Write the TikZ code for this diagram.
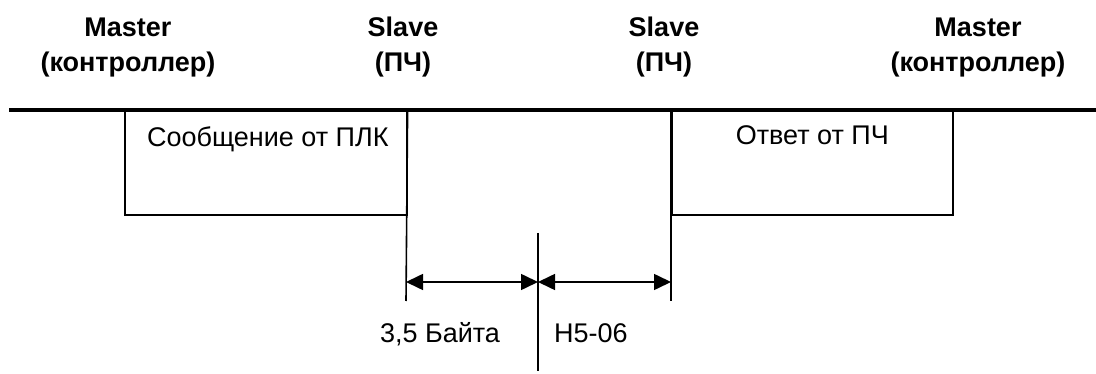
\documentclass[tikz,border=0pt]{standalone}
\usepackage{fontspec}
\setmainfont{Liberation Sans}
\usetikzlibrary{positioning, arrows.meta, calc}
\tikzset{
  bus/.style={line width=4pt},
  frame/.style={draw, line width=1.6pt, minimum width=282pt, minimum height=104pt,
                inner sep=0pt, anchor=north west},
  txt/.style={font=\fontsize{27}{35}\selectfont, inner sep=0pt, anchor=base, align=center},
  head/.style={txt, font=\fontsize{27}{35}\selectfont\bfseries},
  tick/.style={line width=1.6pt},
  dim/.style={{Triangle[length=17pt, width=16pt]}-{Triangle[length=17pt, width=16pt]}, line width=1.6pt},
}
\begin{document}
\begin{tikzpicture}[x=1pt, y=-1pt]
  \useasboundingbox (0,0) rectangle (1096,374);
  % Titles of the stations
  \node[head] (mst1) at (128,72) {Master\\(контроллер)};
  \node[head] (slv1) at (403,72) {Slave\\(ПЧ)};
  \node[head] (slv2) at (664,72) {Slave\\(ПЧ)};
  \node[head] (mst2) at (978,72) {Master\\(контроллер)};
  % Frames on the line
  \node[frame] (req) at (124,110) {};
  \node[frame, minimum width=281pt] (resp) at (671,110) {};
  \node[txt] (reqtxt) at ($(req.north)+(2,37)$) {Сообщение от ПЛК};
  \node[txt] (resptxt) at ($(resp.north)+(0,35)$) {Ответ от ПЧ};
  \coordinate (busL) at (9,110);
  \coordinate (busR) at (1096,110);
  \draw[bus] (busL) -- (busR);
  % Pause between frames
  \coordinate (endreq) at (406,301);
  \coordinate (endresp) at (671,301);
  \coordinate (midtop) at (538,233);
  \coordinate (midbot) at (538,371);
  \draw[tick] (req.north east) -- (endreq);
  \draw[tick] (resp.north west) -- (endresp);
  \draw[tick] (midtop) -- (midbot);
  \coordinate (gapL) at (406,282);
  \coordinate (gapM) at (538,282);
  \coordinate (gapR) at (671,282);
  \draw[dim] (gapL) -- (gapM);
  \draw[dim] (gapM) -- (gapR);
  \node[txt] (bytes) at (440,343) {3,5 Байта};
  \node[txt] (param) at (591,342) {H5-06};
\end{tikzpicture}
\end{document}
